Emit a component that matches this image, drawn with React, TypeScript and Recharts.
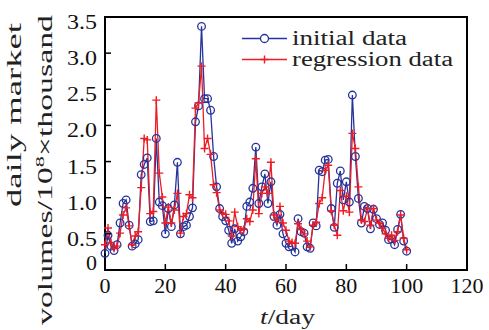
import { Legend, Line, LineChart, ReferenceArea, XAxis, YAxis } from "recharts";

const SERIF = '"Liberation Serif", "Times New Roman", serif';
const BLUE = "#26339a";
const RED = "#ee1c25";

// daily volumes, one value per day starting at day 0
const initialData = [
  0.23, 0.48, 0.33, 0.27, 0.35, 0.65, 0.92, 0.97, 0.62, 0.33,
  0.36, 0.42, 1.32, 1.46, 1.55, 0.67, 0.68, 1.82, 0.94, 0.89,
  0.5, 0.85, 0.6, 0.9, 1.49, 0.5, 0.6, 0.62, 0.74, 0.86,
  2.05, 2.27, 3.37, 2.37, 2.37, 2.21, 1.57, 1.15, 0.85, 0.74,
  0.68, 0.55, 0.37, 0.57, 0.4, 0.46, 0.53, 0.88, 0.94, 1.13,
  1.7, 0.92, 1.15, 1.33, 0.92, 1.22, 0.74, 0.62, 0.77, 0.5,
  0.37, 0.32, 0.33, 0.25, 0.71, 0.53, 0.51, 0.32, 0.3, 0.65,
  0.61, 1.38, 1.36, 1.52, 1.53, 0.85, 0.59, 1.2, 1.37, 0.97,
  1.22, 0.94, 2.42, 1.57, 0.99, 0.65, 0.88, 0.85, 0.57, 0.84,
  0.71, 0.63, 0.65, 0.55, 0.42, 0.43, 0.35, 0.56, 0.77, 0.4,
  0.26,
];

const regressionData = [
  0.35, 0.58, 0.38, 0.3, 0.33, 0.51, 0.76, 0.86, 0.61, 0.35,
  0.47, 0.53, 1.14, 1.82, 1.8, 0.78, 0.81, 2.35, 1.34, 1.01,
  0.65, 0.87, 0.65, 0.83, 1.06, 0.51, 0.74, 0.78, 1.04, 1.0,
  2.24, 2.31, 2.82, 1.68, 1.82, 1.6, 1.18, 1.07, 0.83, 0.78,
  0.77, 0.68, 0.47, 0.8, 0.6, 0.55, 0.56, 0.71, 0.67, 0.83,
  1.54, 0.78, 1.06, 1.15, 1.06, 1.49, 0.76, 0.69, 0.88, 0.65,
  0.55, 0.4, 0.38, 0.37, 0.64, 0.56, 0.5, 0.4, 0.32, 0.62,
  0.66, 0.92, 1.0, 1.38, 1.45, 0.82, 0.62, 0.48, 1.1, 0.82,
  1.02, 0.8, 1.89, 1.68, 1.15, 0.69, 0.67, 0.85, 0.62, 0.85,
  0.69, 0.65, 0.58, 0.5, 0.44, 0.48, 0.41, 0.53, 0.76, 0.44,
  0.28,
];

const xTicks = [0, 20, 40, 60, 80, 100, 120];
const yTicks = [0, 0.5, 1, 1.5, 2, 2.5, 3, 3.5];
const yTickLabels = ["0", "0.5", "1.0", "1.5", "2.0", "2.5", "3.0", "3.5"];

const data = initialData.map((v, i) => ({
  day: i,
  initial: v,
  regression: regressionData[i],
}));

// rough width of a numeric label, digits are drawn wide in the original
const labelWidth = (s: string) =>
  s.split("").reduce((w, c) => w + (c === "." ? 8 : 11), 0);

function XTick({ x, y, payload }: any) {
  const label = String(payload.value);
  return (
    <g>
      <line x1={x} y1={y} x2={x} y2={y - 6} stroke="#000" strokeWidth={1.5} />
      <text
        x={x}
        y={y + 23}
        textAnchor="middle"
        fontFamily={SERIF}
        fontSize={20}
        textLength={labelWidth(label)}
        lengthAdjust="spacingAndGlyphs"
        fill="#111"
      >
        {label}
      </text>
    </g>
  );
}

function YTick({ x, y, payload }: any) {
  const idx = yTicks.indexOf(payload.value);
  const label = yTickLabels[idx] ?? String(payload.value);
  const base = payload.value === 0 ? y : y + 12;
  return (
    <g>
      <line x1={x} y1={y} x2={x + 6} y2={y} stroke="#000" strokeWidth={1.5} />
      <text
        x={x - 8}
        y={base}
        textAnchor="end"
        fontFamily={SERIF}
        fontSize={20}
        textLength={labelWidth(label)}
        lengthAdjust="spacingAndGlyphs"
        fill="#111"
      >
        {label}
      </text>
    </g>
  );
}

function CircleDot({ cx, cy, index }: any) {
  if (cx == null || cy == null) return null;
  return (
    <circle
      key={`c-${index}`}
      cx={cx}
      cy={cy}
      r={3.8}
      fill="none"
      stroke={BLUE}
      strokeWidth={1.3}
    />
  );
}

function PlusDot({ cx, cy, index }: any) {
  if (cx == null || cy == null) return null;
  return (
    <path
      key={`p-${index}`}
      d={`M${cx - 4},${cy}H${cx + 4}M${cx},${cy - 4}V${cy + 4}`}
      stroke={RED}
      strokeWidth={1.4}
      fill="none"
    />
  );
}

function LegendBox() {
  return (
    <svg width={230} height={50} style={{ display: "block" }}>
      <line x1={4} y1={12.5} x2={49} y2={12.5} stroke={BLUE} strokeWidth={1.3} />
      <circle cx={26.5} cy={12.5} r={4} fill="#fff" stroke={BLUE} strokeWidth={1.3} />
      <text
        x={54}
        y={19}
        fontFamily={SERIF}
        fontSize={20}
        textLength={115}
        lengthAdjust="spacingAndGlyphs"
        fill="#222"
      >
        initial data
      </text>
      <line x1={4} y1={33.5} x2={49} y2={33.5} stroke={RED} strokeWidth={1.3} />
      <path d="M22.5,33.5H30.5M26.5,29.5V37.5" stroke={RED} strokeWidth={1.4} />
      <text
        x={54}
        y={40}
        fontFamily={SERIF}
        fontSize={20}
        textLength={161}
        lengthAdjust="spacingAndGlyphs"
        fill="#222"
      >
        regression data
      </text>
    </svg>
  );
}

function XLabel() {
  return (
    <text
      x={287.5}
      y={324}
      textAnchor="middle"
      fontFamily={SERIF}
      fontSize={20}
      textLength={55}
      lengthAdjust="spacingAndGlyphs"
      fill="#222"
    >
      <tspan fontStyle="italic">t</tspan>/day
    </text>
  );
}

function YLabel() {
  return (
    <g fontFamily={SERIF} fontSize={20} fill="#222">
      <text
        x={21}
        y={115}
        textAnchor="middle"
        transform="rotate(-90 21 115)"
        textLength={184}
        lengthAdjust="spacingAndGlyphs"
      >
        daily market
      </text>
      <text
        x={52}
        y={170}
        textAnchor="middle"
        transform="rotate(-90 52 170)"
        textLength={310}
        lengthAdjust="spacingAndGlyphs"
      >
        volumes/10
        <tspan fontSize={13} dy={-8}>
          8
        </tspan>
        <tspan dy={8}>×thousand</tspan>
      </text>
    </g>
  );
}

export default function App() {
  return (
    <div style={{ position: "absolute", left: 0, top: 0, background: "#fff" }}>
      <LineChart
        width={489}
        height={330}
        data={data}
        margin={{ top: 17, right: 22, left: 0, bottom: 0 }}
      >
        <XAxis
          dataKey="day"
          type="number"
          domain={[0, 120]}
          ticks={xTicks}
          interval={0}
          height={60}
          tickSize={0}
          tickMargin={0}
          tickLine={false}
          axisLine={false}
          tick={XTick}
          label={{ content: () => <XLabel /> }}
        />
        <YAxis
          type="number"
          domain={[0, 3.5]}
          ticks={yTicks}
          interval={0}
          width={105}
          tickSize={0}
          tickMargin={0}
          tickLine={false}
          axisLine={false}
          tick={YTick}
          label={{ content: () => <YLabel /> }}
        />
        <ReferenceArea
          x1={0}
          x2={120}
          y1={0}
          y2={3.5}
          fill="none"
          stroke="#000"
          strokeWidth={2}
          fillOpacity={0}
        />
        <Line
          dataKey="initial"
          name="initial data"
          stroke={BLUE}
          strokeWidth={1.3}
          dot={CircleDot}
          activeDot={false}
          isAnimationActive={false}
        />
        <Line
          dataKey="regression"
          name="regression data"
          stroke={RED}
          strokeWidth={1.3}
          dot={PlusDot}
          activeDot={false}
          isAnimationActive={false}
        />
        <Legend
          layout="horizontal"
          verticalAlign="middle"
          align="center"
          content={() => <LegendBox />}
          wrapperStyle={{ left: 238, top: 26, width: "auto" }}
        />
      </LineChart>
    </div>
  );
}
